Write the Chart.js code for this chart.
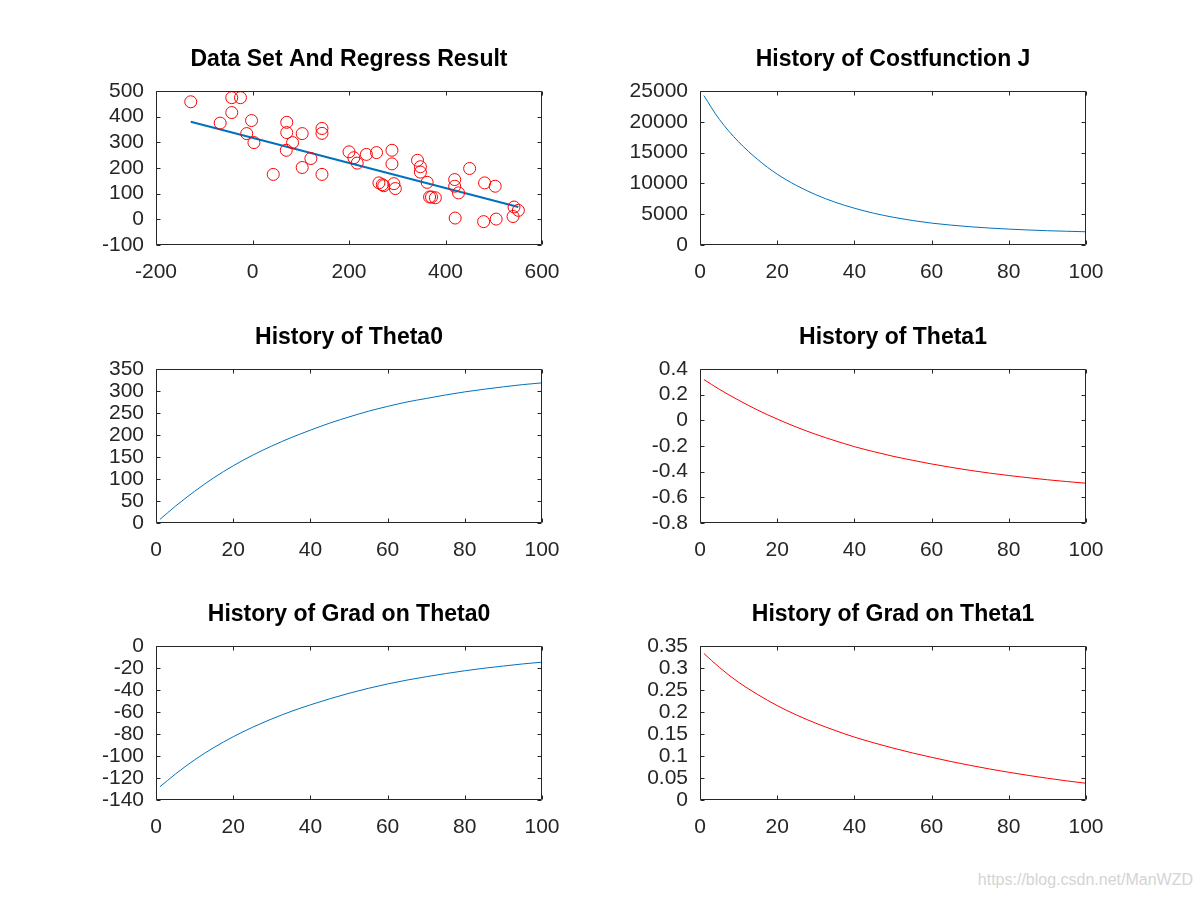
<!DOCTYPE html>
<html>
<head>
<meta charset="utf-8">
<script src="https://cdn.jsdelivr.net/npm/chart.js@4.4.0/dist/chart.umd.min.js"></script>
<style>
body { margin: 0; background: #fff; }
#wrap { position: relative; width: 1200px; height: 900px; overflow: hidden; }
canvas { position: absolute; }
#mark { position: absolute; right: 7px; top: 871px; font: 16px "Liberation Sans", Arial, sans-serif; color: #d4d4d4; }
</style>
</head>
<body>
<div id="wrap">
  <canvas id="c1" width="496" height="264" style="left:76px;top:31px"></canvas>
  <canvas id="c2" width="496" height="264" style="left:620px;top:31px"></canvas>
  <canvas id="c3" width="496" height="264" style="left:76px;top:309px"></canvas>
  <canvas id="c4" width="496" height="264" style="left:620px;top:309px"></canvas>
  <canvas id="c5" width="496" height="264" style="left:76px;top:586px"></canvas>
  <canvas id="c6" width="496" height="264" style="left:620px;top:586px"></canvas>
  <div id="mark">https://blog.csdn.net/ManWZD</div>
</div>
<script>
// data set (scatter)
const dataX = [-128, -43, -25, -43, -67, -2, -12, 3, 43, 71, 71, 70, 83, 103, 103, 121, 144, 144, 144,
  200, 210, 217, 236, 257, 289, 289, 262, 269, 272, 293, 296, 342, 348, 348, 362, 367, 371, 379,
  419, 419, 427, 420, 450, 481, 503, 479, 505, 540, 542, 551];
const dataY = [458, 474, 474, 416, 375, 385, 334, 299, 175, 378, 338, 269, 299, 334, 202, 237, 354, 335, 175,
  263, 240, 219, 253, 260, 269, 216, 142, 135, 131, 139, 120, 230, 205, 184, 144, 87, 87, 84,
  155, 129, 103, 5, 198, 142, 129, -9, 1, 11, 48, 35];
// regression line end points
const fitX = [-128, 551];
const fitY = [380, 48];

// iteration history, read every 5 iterations
const iters = [1, 5, 10, 15, 20, 25, 30, 35, 40, 45, 50, 55, 60, 65, 70, 75, 80, 85, 90, 95, 100];
const costJ = [24250, 20400, 16750, 13850, 11500, 9660, 8160, 6950, 5970, 5160, 4510,
  3980, 3550, 3230, 2965, 2750, 2580, 2440, 2320, 2230, 2150];
const theta0Hist = [8, 38, 72, 103, 130, 154, 175, 194, 211, 227, 241,
  254, 265, 275, 283, 291, 298, 304, 309.5, 314.5, 318.5];
const theta1Hist = [0.318, 0.242, 0.157, 0.079, 0.01, -0.053, -0.109, -0.159, -0.205, -0.244, -0.28,
  -0.311, -0.34, -0.366, -0.39, -0.411, -0.43, -0.447, -0.463, -0.477, -0.49];
const grad0Hist = [-128, -116.5, -103.5, -92.3, -82.5, -73.9, -66.3, -59.5, -53.5, -48, -43,
  -38.5, -34.5, -31, -27.9, -25.1, -22.5, -20.2, -18.2, -16.3, -14.7];
const grad1Hist = [0.333, 0.3015, 0.2675, 0.2395, 0.2145, 0.1932, 0.1745, 0.158, 0.143, 0.130, 0.118,
  0.107, 0.097, 0.0875, 0.0787, 0.0705, 0.063, 0.056, 0.0495, 0.0435, 0.038];

const BLUE = '#0072bd';
const RED = '#ff0000';

Chart.defaults.font.family = '"Liberation Sans", Arial, sans-serif';
Chart.defaults.font.size = 21;
Chart.defaults.color = '#262626';

// octave style box with inward ticks
const boxTicks = {
  id: 'boxTicks',
  afterDraw(chart) {
    const ctx = chart.ctx, a = chart.chartArea;
    const x = chart.scales.x, y = chart.scales.y;
    const L = Math.round(a.left) + 0.5, R = Math.round(a.right) - 0.5;
    const T = Math.round(a.top) + 0.5, B = Math.round(a.bottom) - 0.5;
    ctx.save();
    ctx.strokeStyle = '#262626';
    ctx.lineWidth = 1;
    ctx.beginPath();
    ctx.rect(L, T, R - L, B - T);
    x.ticks.forEach(t => {
      const px = Math.round(x.getPixelForValue(t.value)) + 0.5;
      ctx.moveTo(px, B); ctx.lineTo(px, B - 4);
      ctx.moveTo(px, T); ctx.lineTo(px, T + 4);
    });
    y.ticks.forEach(t => {
      const py = Math.round(y.getPixelForValue(t.value)) + 0.5;
      ctx.moveTo(L, py); ctx.lineTo(L + 4, py);
      ctx.moveTo(R, py); ctx.lineTo(R - 4, py);
    });
    ctx.stroke();
    ctx.restore();
  }
};

function fmt(v) {
  return String(+v.toFixed(4));
}

function axes(xmin, xmax, xstep, ymin, ymax, ystep) {
  return {
    x: {
      type: 'linear', min: xmin, max: xmax,
      grid: { display: false }, border: { display: false },
      ticks: { stepSize: xstep, padding: 7, callback: fmt, maxRotation: 0, autoSkip: false },
      afterFit: s => { s.height = 50; }
    },
    y: {
      type: 'linear', min: ymin, max: ymax,
      grid: { display: false }, border: { display: false },
      ticks: { stepSize: ystep, padding: 4, callback: fmt, autoSkip: false },
      afterFit: s => { s.width = 80; }
    }
  };
}

function opts(title, scales) {
  return {
    responsive: false,
    animation: false,
    layout: { padding: { top: 0, left: 0, right: 30, bottom: 0 } },
    plugins: {
      legend: { display: false },
      tooltip: { enabled: false },
      title: {
        display: true, text: title, fullSize: false, color: '#000',
        font: { size: 23, weight: 'bold', lineHeight: 1.2 },
        padding: { top: 15, bottom: 17.4 }
      }
    },
    scales: scales
  };
}

function pts(xs, ys) {
  return xs.map((v, i) => ({ x: v, y: ys[i] }));
}

function curve(id, title, ys, color, ymin, ymax, ystep) {
  new Chart(document.getElementById(id), {
    type: 'scatter',
    data: {
      datasets: [{
        data: pts(iters, ys),
        showLine: true,
        borderColor: color,
        borderWidth: 1,
        pointRadius: 0,
        cubicInterpolationMode: 'monotone'
      }]
    },
    options: opts(title, axes(0, 100, 20, ymin, ymax, ystep)),
    plugins: [boxTicks]
  });
}

new Chart(document.getElementById('c1'), {
  type: 'scatter',
  data: {
    datasets: [{
      data: pts(dataX, dataY),
      pointStyle: 'circle',
      pointRadius: 6,
      borderColor: RED,
      backgroundColor: 'rgba(0,0,0,0)',
      borderWidth: 1,
      clip: false
    }, {
      data: pts(fitX, fitY),
      showLine: true,
      borderColor: BLUE,
      borderWidth: 2,
      pointRadius: 0
    }]
  },
  options: opts('Data Set And Regress Result', axes(-200, 600, 200, -100, 500, 100)),
  plugins: [boxTicks]
});

curve('c2', 'History of Costfunction J', costJ, BLUE, 0, 25000, 5000);
curve('c3', 'History of Theta0', theta0Hist, BLUE, 0, 350, 50);
curve('c4', 'History of Theta1', theta1Hist, RED, -0.8, 0.4, 0.2);
curve('c5', 'History of Grad on Theta0', grad0Hist, BLUE, -140, 0, 20);
curve('c6', 'History of Grad on Theta1', grad1Hist, RED, 0, 0.35, 0.05);
</script>
</body>
</html>
